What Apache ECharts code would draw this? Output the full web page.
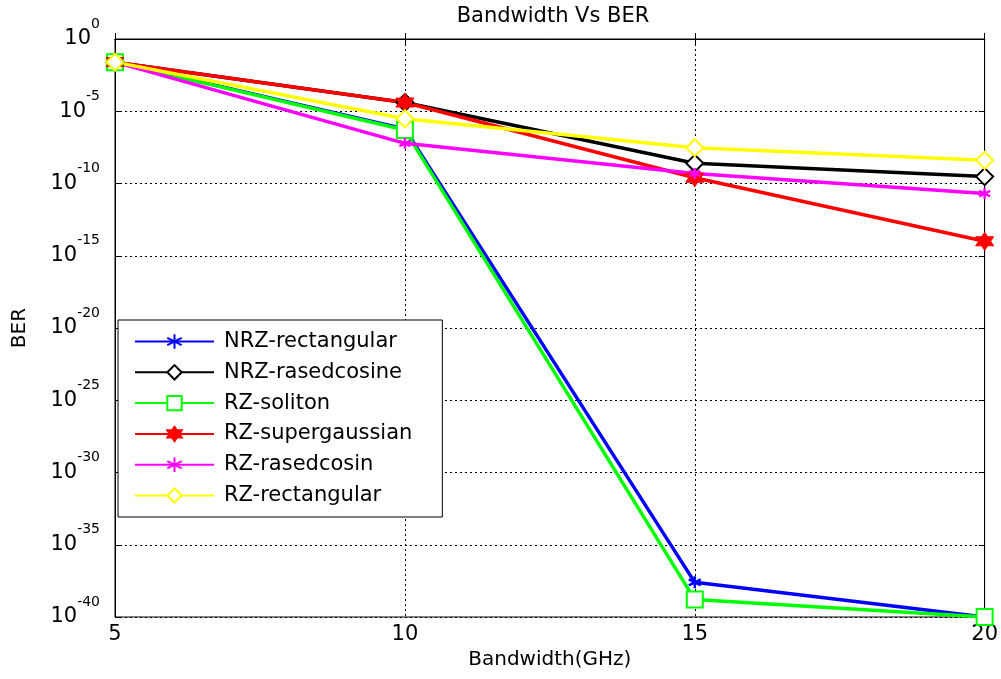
<!DOCTYPE html>
<html>
<head>
<meta charset="utf-8">
<script src="https://cdn.jsdelivr.net/npm/echarts@6/dist/echarts.min.js"></script>
<style>html,body{margin:0;padding:0;background:#fff}#c{width:1001px;height:679px}</style>
</head>
<body>
<div id="c"></div>
<script>
const bandwidth = [5, 10, 15, 20];
const seriesNames = ['NRZ-rectangular', 'NRZ-rasedcosine', 'RZ-soliton', 'RZ-supergaussian', 'RZ-rasedcosin', 'RZ-rectangular'];
// BER values
const nrzRectangular = [2.5e-2, 6e-7, 2.5e-38, 1e-40];
const nrzRasedcosine = [2.5e-2, 4e-5, 2.5e-9, 3e-10];
const rzSoliton = [2.5e-2, 5e-7, 1.6e-39, 1e-40];
const rzSupergaussian = [2.5e-2, 4e-5, 2.5e-10, 1e-14];
const rzRasedcosin = [2.5e-2, 6e-8, 5e-10, 2e-11];
const rzRectangular = [2.5e-2, 3e-6, 3e-8, 4e-9];
const xTicks = [5, 10, 15, 20];
const yTickExponents = [0, -5, -10, -15, -20, -25, -30, -35, -40];

const FONT = 'DejaVu Sans, Arial, sans-serif';
const asterisk = 'path://M0,-10L0,10M-8.66,-5L8.66,5M-8.66,5L8.66,-5M0,-10';
const hexagram = 'path://M0,-10L8.66,5L-8.66,5Z M0,10L-8.66,-5L8.66,-5Z';

const styles = [
  {color: '#0000ff', symbol: asterisk, size: 12, bw: 2.5},
  {color: '#000000', symbol: 'emptyDiamond', size: 17, bw: 3},
  {color: '#00ff00', symbol: 'emptyRect', size: 16, bw: 3},
  {color: '#ff0000', symbol: hexagram, size: 18, bw: 1},
  {color: '#ff00ff', symbol: asterisk, size: 11, bw: 2.5},
  {color: '#ffff00', symbol: 'emptyDiamond', size: 17, bw: 3}
];
const allData = [nrzRectangular, nrzRasedcosine, rzSoliton, rzSupergaussian, rzRasedcosin, rzRectangular];

// y axis is drawn in decades (log10 of BER)
const series = allData.map((d, i) => ({
  name: seriesNames[i],
  type: 'line',
  xAxisIndex: 0, yAxisIndex: 0,
  data: d.map((v, j) => [bandwidth[j], Math.log10(v)]),
  symbol: styles[i].symbol,
  symbolSize: styles[i].size,
  showAllSymbol: true,
  lineStyle: {color: styles[i].color, width: 3.5},
  itemStyle: {color: styles[i].color, borderColor: styles[i].color, borderWidth: styles[i].bw},
  emphasis: {disabled: true},
  animation: false
}));

const gridDash = {show: true, lineStyle: {color: '#000', type: [2, 3], width: 1}};
const tick = {inside: true, length: 6, lineStyle: {color: '#000'}};

const chart = echarts.init(document.getElementById('c'), null, {renderer: 'canvas'});
chart.setOption({
  backgroundColor: '#fff',
  animation: false,
  title: {
    text: 'Bandwidth Vs BER', left: 548, top: 1, textAlign: 'center',
    textStyle: {fontFamily: FONT, fontSize: 21, fontWeight: 'normal', color: '#000'}
  },
  grid: {left: 115, right: 16, top: 39, bottom: 62, show: true, borderColor: '#000', borderWidth: 1, backgroundColor: '#fff'},
  legend: {
    orient: 'vertical', left: 118, top: 320,
    itemWidth: 79, itemHeight: 18, itemGap: 7.8,
    padding: [10, 30, 10, 16],
    backgroundColor: '#fff', borderColor: '#000', borderWidth: 1,
    textStyle: {fontFamily: FONT, fontSize: 21, lineHeight: 23, color: '#000', padding: [0, 0, 0, 5]},
    data: seriesNames
  },
  xAxis: [{
    type: 'value', min: 5, max: 20, interval: 5,
    name: 'Bandwidth(GHz)', nameLocation: 'middle', nameGap: 33,
    nameTextStyle: {fontFamily: FONT, fontSize: 20, color: '#000'},
    axisLine: {lineStyle: {color: '#000', width: 1}},
    axisTick: tick,
    axisLabel: {fontFamily: FONT, fontSize: 21, color: '#000', margin: 7,
      formatter: v => xTicks.includes(v) ? String(v) : ''},
    splitLine: gridDash
  }, {
    type: 'value', min: 5, max: 20, interval: 5, position: 'top',
    axisLine: {lineStyle: {color: '#000', width: 1}},
    axisTick: tick, axisLabel: {show: false}, splitLine: {show: false}
  }],
  yAxis: [{
    type: 'value', min: -40, max: 0, interval: 5,
    name: 'BER', nameLocation: 'middle', nameGap: 85, nameRotate: 90,
    nameTextStyle: {fontFamily: FONT, fontSize: 20, color: '#000'},
    axisLine: {lineStyle: {color: '#000', width: 1}},
    axisTick: tick,
    axisLabel: {
      margin: 15,
      formatter: v => yTickExponents.includes(v) ? '{b|10}{s|' + v + '}' : '',
      rich: {
        b: {fontFamily: FONT, fontSize: 21, color: '#000', verticalAlign: 'middle', lineHeight: 44},
        s: {fontFamily: FONT, fontSize: 14, color: '#000', verticalAlign: 'top', lineHeight: 16}
      }
    },
    splitLine: gridDash
  }, {
    type: 'value', min: -40, max: 0, interval: 5, position: 'right',
    axisLine: {lineStyle: {color: '#000', width: 1}},
    axisTick: tick, axisLabel: {show: false}, splitLine: {show: false}
  }],
  series: series
});
</script>
</body>
</html>
